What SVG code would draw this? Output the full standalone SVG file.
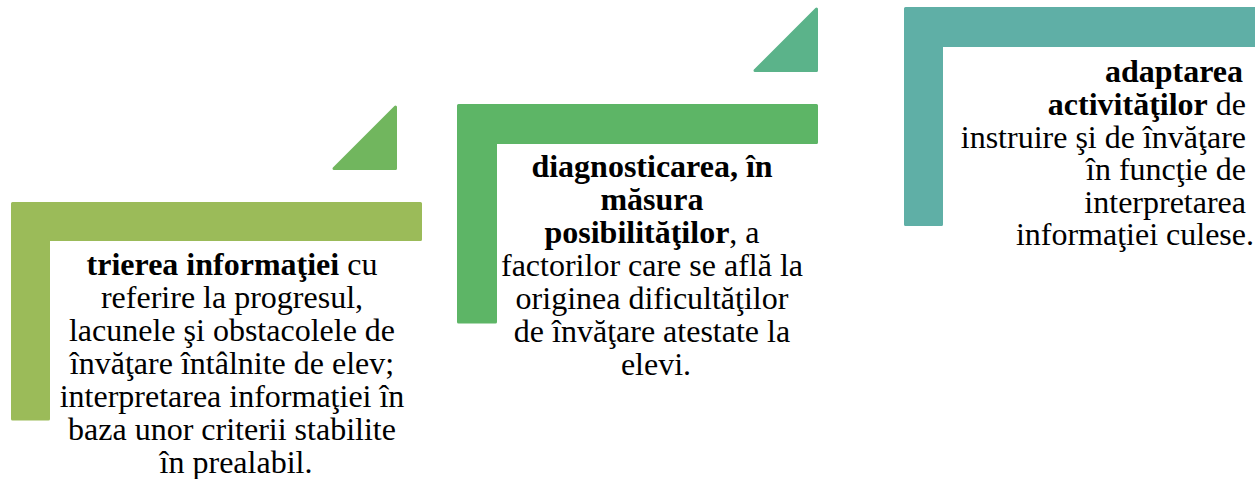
<svg xmlns="http://www.w3.org/2000/svg" width="1255" height="479" viewBox="0 0 1255 479">
<style>
.sh{stroke-width:3;stroke-linejoin:round}
.t{font-family:"Liberation Serif","Times New Roman",serif;font-size:32px;fill:#000}
.b{font-weight:bold}
.c{text-anchor:middle}
.r{text-anchor:end}
</style>
<rect width="1255" height="479" fill="#fff"/>
<g id="node1">
<path class="sh" fill="#9BBB59" stroke="#9BBB59" d="M12.5,203.5H420.5V239.5H48.5V419H12.5Z"/>
<path class="sh" fill="#71B65E" stroke="#71B65E" d="M334,168.5L395.5,107V168.5Z"/>
<text class="t c">
<tspan x="236" y="275"><tspan class="b">trierea informaţiei</tspan> cu</tspan>
<tspan x="236" y="308">referire la progresul,</tspan>
<tspan x="236" y="341">lacunele şi obstacolele de</tspan>
<tspan x="236" y="374">învăţare întâlnite de elev;</tspan>
<tspan x="236" y="407">interpretarea informaţiei în</tspan>
<tspan x="236" y="440">baza unor criterii stabilite</tspan>
<tspan x="236" y="473">în prealabil.</tspan>
</text>
</g>
<g id="node2">
<path class="sh" fill="#5DB566" stroke="#5DB566" d="M458.5,105.5H816.5V142.5H495.5V322H458.5Z"/>
<path class="sh" fill="#5BB38A" stroke="#5BB38A" d="M755,70.5L816.5,9V70.5Z"/>
<text class="t c">
<tspan x="656" y="177" class="b">diagnosticarea, în</tspan>
<tspan x="656" y="210" class="b">măsura</tspan>
<tspan x="656" y="243"><tspan class="b">posibilităţilor</tspan>, a</tspan>
<tspan x="656" y="276">factorilor care se află la</tspan>
<tspan x="656" y="309">originea dificultăţilor</tspan>
<tspan x="656" y="342">de învăţare atestate la</tspan>
<tspan x="656" y="375">elevi.</tspan>
</text>
</g>
<g id="node3">
<path class="sh" fill="#5FAFA6" stroke="#5FAFA6" d="M905.5,8.5H1258V45.5H941.5V224.5H905.5Z"/>
<text class="t r">
<tspan x="1251" y="82" class="b">adaptarea</tspan>
<tspan x="1254" y="115"><tspan class="b">activităţilor</tspan> de</tspan>
<tspan x="1254" y="147.5">instruire şi de învăţare</tspan>
<tspan x="1254" y="180">în funcţie de</tspan>
<tspan x="1254" y="212.5">interpretarea</tspan>
<tspan x="1254" y="245">informaţiei culese.</tspan>
</text>
</g>
<g id="connectors"></g>
</svg>
